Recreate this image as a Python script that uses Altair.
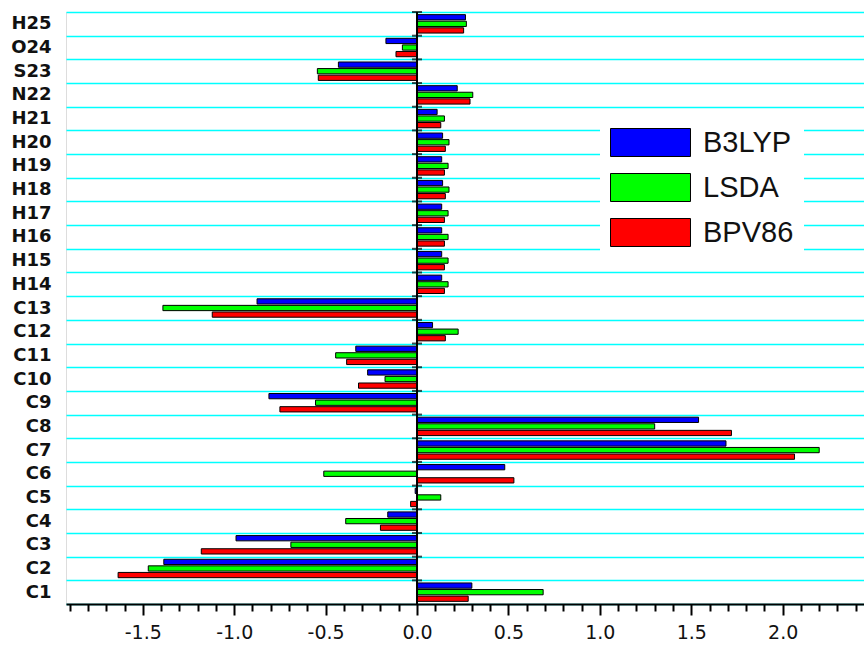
import altair as alt
import pandas as pd
import numpy as np

atoms = ["C1", "C2", "C3", "C4", "C5", "C6", "C7", "C8", "C9", "C10", "C11", "C12", "C13",
         "H14", "H15", "H16", "H17", "H18", "H19", "H20", "H21", "N22", "S23", "O24", "H25"]
b3lyp = [0.30, -1.385, -0.99, -0.16, -0.01, 0.48, 1.69, 1.54, -0.81, -0.27, -0.335, 0.085, -0.875,
         0.135, 0.135, 0.135, 0.135, 0.14, 0.135, 0.14, 0.11, 0.22, -0.43, -0.17, 0.265]
lsda = [0.69, -1.47, -0.69, -0.39, 0.13, -0.51, 2.20, 1.30, -0.555, -0.175, -0.445, 0.225, -1.39,
        0.17, 0.17, 0.17, 0.17, 0.175, 0.17, 0.175, 0.15, 0.305, -0.545, -0.08, 0.27]
bpv86 = [0.28, -1.635, -1.18, -0.20, -0.035, 0.53, 2.065, 1.72, -0.75, -0.32, -0.385, 0.155, -1.12,
         0.15, 0.15, 0.15, 0.15, 0.155, 0.15, 0.155, 0.13, 0.29, -0.54, -0.115, 0.255]
methods = ["B3LYP", "LSDA", "BPV86"]
colors = ["#0000FF", "#00FF00", "#FF0000"]
tick_values = [round(float(v), 1) for v in np.arange(-1.9, 2.45, 0.1)]

rows = []
for i, a in enumerate(atoms):
    for m, vals in zip(methods, [b3lyp, lsda, bpv86]):
        rows.append({"atom": a, "method": m, "value": vals[i]})
df = pd.DataFrame(rows)
order = list(reversed(atoms))

xscale = alt.Scale(domain=[-1.92, 2.445], nice=False, zero=False)
major = "abs(datum.value*2 - round(datum.value*2)) < 0.001"

bars = alt.Chart(df).mark_bar(stroke="black", strokeWidth=1).encode(
    x=alt.X("value:Q", scale=xscale, title=None,
            axis=alt.Axis(values=tick_values, tickCount=200, grid=False, labelOverlap=False,
                          labelExpr=major + " ? replace(format(datum.value, '.1f'), '\u2212', '-') : ''",
                          tickSize={"condition": {"test": major, "value": 11}, "value": 7},
                          tickWidth=2, tickColor="black", domainColor="black", domainWidth=2,
                          labelFont="DejaVu Sans", labelFontSize=19, labelColor="#111111",
                          labelPadding=8, labelFlush=False)),
    y=alt.Y("atom:N", sort=order, title=None,
            scale=alt.Scale(paddingInner=0, paddingOuter=0),
            axis=alt.Axis(domain=False, ticks=False, grid=True, tickBand="extent",
                          gridColor="#00FFFF", gridWidth=1.5,
                          labelFont="DejaVu Sans", labelFontWeight="bold", labelFontSize=18,
                          labelColor="#111111", labelPadding=15)),
    yOffset=alt.YOffset("method:N", sort=methods,
                        scale=alt.Scale(paddingInner=0.2, paddingOuter=0.4)),
    color=alt.Color("method:N", sort=methods,
                    scale=alt.Scale(domain=methods, range=colors),
                    legend=alt.Legend(title=None, orient="none", legendX=534, legendY=106,
                                      symbolType="M-1,-1H4.714V1H-1Z", symbolSize=784,
                                      symbolStrokeColor="black", symbolStrokeWidth=1,
                                      symbolOpacity=1,
                                      labelFont="Liberation Sans", labelFontSize=29,
                                      labelColor="#111111", labelOffset=64, rowPadding=12,
                                      fillColor="white", padding=10, labelLimit=0)),
)

zero = alt.Chart(pd.DataFrame({"v": [0]})).mark_rule(color="black", strokeWidth=2).encode(
    x=alt.X("v:Q", scale=xscale)
)

zticks = alt.Chart(pd.DataFrame({"atom": atoms, "v": [0] * len(atoms)})).mark_tick(
    orient="horizontal", size=10, thickness=2, color="black"
).encode(
    x=alt.X("v:Q", scale=xscale),
    y=alt.Y("atom:N", sort=order, bandPosition=0),
)

chart = alt.layer(bars, zero, zticks).properties(
    width=798, height=592,
    autosize=alt.AutoSizeParams(type="none"),
    padding={"left": 66, "top": 12, "right": 0, "bottom": 41},
).configure_view(stroke=None).configure(background="white")

chart.save("out.html", embed_options={"renderer": "svg", "actions": False})
